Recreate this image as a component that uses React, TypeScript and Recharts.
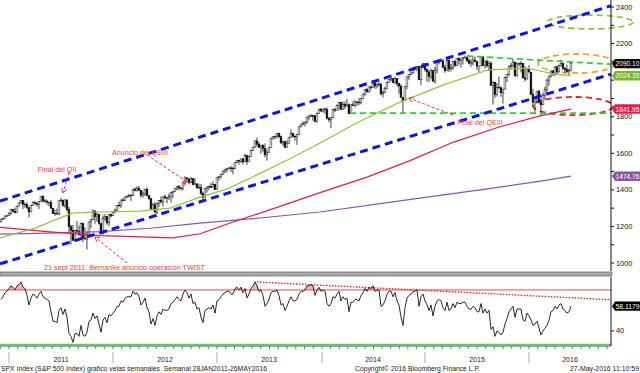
import React from 'react';
import {
  Area,
  Bar,
  ComposedChart,
  Line,
  ReferenceArea,
  ReferenceDot,
  ReferenceLine,
  XAxis,
  YAxis,
} from 'recharts';

// weekly candles: [close, high, low]; open = previous close
type Week = [number, number, number];

const firstOpen = 1225;
const firstWeek = -4;

const weeks2010: Week[] = [[1240, 1241, 1222], [1244, 1246, 1235], [1257, 1259, 1243], [1258, 1263, 1254]];

const weeks2011: Week[] = [
  [1272, 1277, 1257], [1293, 1294, 1265], [1283, 1296, 1276], [1276, 1302, 1270],
  [1311, 1311, 1276], [1329, 1330, 1311], [1343, 1344, 1324], [1320, 1343, 1294],
  [1321, 1333, 1303], [1304, 1331, 1294], [1279, 1304, 1249], [1314, 1315, 1279],
  [1332, 1337, 1314], [1328, 1339, 1318], [1320, 1329, 1309], [1337, 1338, 1295], [1364, 1364, 1336],
  [1340, 1371, 1330], [1338, 1350, 1330], [1333, 1346, 1318], [1331, 1334, 1311],
  [1300, 1346, 1297], [1271, 1299, 1268], [1272, 1292, 1258], [1268, 1298, 1265],
  [1340, 1341, 1263], [1344, 1357, 1334], [1316, 1344, 1306], [1345, 1347, 1303], [1292, 1345, 1282],
  [1199, 1307, 1168], [1179, 1209, 1101], [1124, 1208, 1120], [1177, 1182, 1124],
  [1174, 1230, 1172], [1154, 1204, 1150], [1216, 1220, 1137], [1136, 1221, 1114], [1131, 1195, 1130],
  [1155, 1171, 1074], [1225, 1225, 1156], [1238, 1240, 1191], [1285, 1293, 1234],
  [1253, 1285, 1215], [1264, 1277, 1226], [1216, 1265, 1209], [1159, 1208, 1158],
  [1244, 1260, 1158], [1255, 1267, 1231], [1220, 1255, 1209], [1265, 1266, 1202], [1258, 1269, 1248],
];

const weeks2012: Week[] = [
  [1278, 1285, 1258], [1289, 1297, 1275], [1315, 1315, 1283], [1316, 1333, 1306],
  [1345, 1345, 1300], [1343, 1355, 1335], [1361, 1362, 1340], [1366, 1368, 1355],
  [1370, 1379, 1359], [1371, 1374, 1340], [1404, 1405, 1366], [1397, 1414, 1392], [1409, 1420, 1391],
  [1398, 1422, 1395], [1370, 1398, 1358], [1379, 1392, 1357], [1403, 1406, 1366],
  [1369, 1415, 1367], [1353, 1370, 1343], [1295, 1356, 1292], [1318, 1328, 1292],
  [1278, 1334, 1277], [1326, 1330, 1267], [1343, 1344, 1306], [1335, 1364, 1324], [1362, 1363, 1309],
  [1355, 1375, 1352], [1357, 1358, 1326], [1363, 1380, 1345], [1386, 1387, 1330],
  [1391, 1392, 1354], [1406, 1407, 1391], [1418, 1419, 1398], [1411, 1426, 1398], [1407, 1414, 1397],
  [1438, 1438, 1396], [1466, 1474, 1425], [1460, 1467, 1449], [1441, 1460, 1430],
  [1461, 1470, 1439], [1429, 1461, 1425], [1433, 1464, 1426], [1412, 1434, 1403],
  [1414, 1434, 1405], [1380, 1433, 1373], [1360, 1389, 1343], [1409, 1410, 1359], [1416, 1419, 1385],
  [1418, 1423, 1398], [1414, 1438, 1411], [1430, 1448, 1416], [1402, 1431, 1398],
];

const weeks2013: Week[] = [
  [1467, 1467, 1402], [1472, 1473, 1451], [1486, 1486, 1461], [1503, 1503, 1482],
  [1513, 1514, 1490], [1518, 1518, 1495], [1520, 1524, 1510], [1516, 1531, 1498],
  [1518, 1525, 1485], [1551, 1552, 1514], [1561, 1564, 1549], [1557, 1564, 1538], [1569, 1570, 1546],
  [1553, 1573, 1539], [1589, 1597, 1552], [1555, 1589, 1536], [1582, 1587, 1555],
  [1614, 1618, 1581], [1634, 1636, 1612], [1668, 1668, 1631], [1650, 1687, 1636], [1631, 1662, 1630],
  [1643, 1646, 1598], [1627, 1650, 1608], [1592, 1654, 1577], [1606, 1620, 1560],
  [1632, 1632, 1602], [1680, 1680, 1632], [1692, 1693, 1675], [1692, 1698, 1676],
  [1710, 1710, 1681], [1691, 1710, 1684], [1656, 1697, 1654], [1664, 1669, 1640], [1633, 1667, 1627],
  [1655, 1671, 1633], [1688, 1690, 1656], [1710, 1730, 1684], [1692, 1711, 1687],
  [1691, 1697, 1670], [1703, 1704, 1646], [1745, 1745, 1701], [1760, 1760, 1741],
  [1762, 1775, 1752], [1771, 1774, 1746], [1798, 1799, 1761], [1805, 1806, 1780], [1806, 1813, 1797],
  [1805, 1811, 1779], [1775, 1809, 1772], [1818, 1823, 1767], [1841, 1844, 1819],
];

const weeks2014: Week[] = [
  [1831, 1849, 1827], [1842, 1843, 1823], [1839, 1851, 1815], [1790, 1850, 1790], [1783, 1799, 1770],
  [1797, 1798, 1738], [1839, 1841, 1791], [1836, 1847, 1825], [1860, 1867, 1836],
  [1878, 1883, 1835], [1841, 1879, 1839], [1866, 1883, 1839], [1858, 1884, 1842],
  [1865, 1897, 1858], [1816, 1872, 1814], [1865, 1869, 1815], [1863, 1884, 1859],
  [1881, 1891, 1851], [1879, 1885, 1859], [1878, 1902, 1862], [1901, 1901, 1868], [1924, 1924, 1900],
  [1949, 1950, 1915], [1936, 1956, 1933], [1963, 1964, 1932], [1961, 1968, 1944],
  [1985, 1985, 1958], [1968, 1986, 1953], [1978, 1983, 1955], [1978, 1991, 1965],
  [1925, 1985, 1916], [1932, 1942, 1905], [1955, 1964, 1928], [1988, 1992, 1953], [2003, 2006, 1986],
  [2008, 2012, 1994], [1986, 2008, 1983], [2010, 2019, 1978], [1983, 2009, 1965],
  [1968, 1986, 1926], [1906, 1977, 1905], [1887, 1906, 1821], [1965, 1965, 1886], [2018, 2018, 1951],
  [2032, 2034, 2002], [2040, 2041, 2026], [2064, 2071, 2034], [2068, 2075, 2060],
  [2075, 2076, 2049], [2002, 2074, 2002], [2071, 2077, 1973], [2089, 2094, 2066],
];

const weeks2015: Week[] = [
  [2058, 2093, 2047], [2045, 2064, 1992], [2019, 2054, 1988], [2052, 2064, 2005], [1995, 2057, 1989],
  [2055, 2073, 1981], [2097, 2097, 2039], [2110, 2110, 2086], [2105, 2119, 2099],
  [2071, 2117, 2066], [2053, 2083, 2040], [2108, 2114, 2048], [2061, 2115, 2045],
  [2067, 2088, 2048], [2102, 2103, 2057], [2081, 2111, 2072], [2118, 2120, 2078],
  [2108, 2126, 2085], [2116, 2117, 2068], [2123, 2123, 2085], [2126, 2134, 2117], [2107, 2127, 2099],
  [2093, 2120, 2086], [2094, 2115, 2072], [2110, 2127, 2081], [2102, 2130, 2100],
  [2077, 2102, 2056], [2077, 2078, 2044], [2127, 2128, 2077], [2080, 2132, 2079], [2104, 2107, 2063],
  [2078, 2113, 2068], [2092, 2105, 2052], [1971, 2103, 1970], [1989, 1993, 1867],
  [1921, 1990, 1903], [1961, 1984, 1911], [1958, 2021, 1953], [1931, 1967, 1909],
  [1951, 1952, 1872], [2015, 2020, 1951], [2033, 2034, 1990], [2075, 2080, 2022], [2079, 2094, 2058],
  [2099, 2116, 2069], [2023, 2100, 2022], [2089, 2097, 2019], [2090, 2097, 2074],
  [2092, 2104, 2043], [2012, 2093, 2012], [2006, 2076, 1993], [2061, 2067, 2005], [2044, 2082, 2044],
];

const weeks2016: Week[] = [
  [1922, 2039, 1919], [1880, 1950, 1857], [1907, 1908, 1812], [1940, 1940, 1872],
  [1880, 1947, 1872], [1865, 1896, 1810], [1918, 1931, 1865], [1948, 1963, 1891],
  [2000, 2009, 1931], [2022, 2022, 1969], [2050, 2052, 2015], [2036, 2053, 2023],
  [2073, 2076, 2022], [2048, 2075, 2033], [2081, 2084, 2039], [2092, 2112, 2075], [2065, 2096, 2053],
  [2057, 2072, 2039], [2047, 2084, 2044], [2052, 2064, 2025], [2090.1, 2094, 2048],
];

// weekly RSI, same weeks as the candles
const rsi2010 = [63, 65, 68, 69];
const rsi2011 = [
  71, 73, 72, 70, 73, 74, 76, 72, 71, 66, 59, 64, 67, 66, 64, 67, 69, 65, 64, 63, 62,
  54, 47, 47, 46, 55, 57, 52, 56, 50, 38, 36, 31.5, 38, 38, 36, 44, 37, 36, 39,
  47, 48, 53, 49, 51, 45, 39, 48, 50, 46, 52, 51,
];
const rsi2012 = [
  53, 55, 58, 58, 62, 61, 64, 65, 65, 65, 69, 67, 68, 65, 59, 61, 64, 57, 54, 45,
  49, 44, 51, 54, 52, 56, 55, 55, 56, 60, 61, 63, 65, 63, 62, 67, 70, 68, 64, 67,
  60, 61, 56, 57, 50, 46, 55, 56, 57, 56, 59, 53,
];
const rsi2013 = [
  62, 63, 65, 67, 68, 69, 69, 67, 67, 71, 72, 70, 72, 68, 71, 64, 67, 71, 73, 76,
  73, 69, 70, 66, 58, 60, 63, 68, 69, 69, 70, 66, 59, 60, 55, 58, 62, 65, 62, 62,
  63, 67, 69, 69, 70, 73, 73, 74, 73, 66, 70, 72,
];
const rsi2014 = [
  69, 70, 69, 60, 58, 60, 65, 64, 67, 69, 62, 65, 63, 64, 54, 61, 61, 63, 63, 62,
  66, 68, 71, 69, 72, 71, 73, 69, 70, 70, 58, 59, 62, 67, 69, 69, 65, 68, 62, 59,
  50, 44, 57, 64, 66, 67, 69, 69, 70, 58, 65, 67,
];
const rsi2015 = [
  62, 59, 55, 59, 51, 58, 62, 63, 62, 57, 55, 61, 55, 56, 60, 57, 61, 60, 60, 61,
  61, 58, 56, 56, 58, 57, 54, 54, 60, 53, 56, 53, 55, 41, 43, 36, 40, 39, 37, 39,
  45, 49, 54, 56, 58, 50, 56, 56, 56, 48, 47, 53, 51,
];
const rsi2016 = [48, 44, 45, 47, 42, 37, 40, 42, 44, 48, 54, 55, 58, 56, 59, 60, 56, 55, 53, 54, 58.1179];

// moving averages: week position -> value
const greenMaW = [-4.5, 13, 31.5, 45.5, 65.5, 80.5, 95.5, 109, 125.5, 140.5, 155.5, 175.5, 195.5, 217, 239, 259, 265.5, 273, 281];
const greenMaV = [1137, 1191, 1273, 1279, 1284, 1300, 1360, 1404, 1490, 1570, 1656, 1775, 1880, 1973, 2055, 2066, 2050, 2033, 2024.35];
const redMaW = [-4.5, 20.5, 45.5, 82, 95.5, 112, 135.5, 155.5, 179, 200.5, 222, 245.5, 265.5, 281];
const redMaV = [1195, 1170, 1150, 1137, 1160, 1224, 1310, 1385, 1470, 1560, 1660, 1745, 1805, 1841.95];
const purpleMaW = [-4.5, 25.5, 45.5, 70.5, 95.5, 125.5, 155.5, 195.5, 235.5, 269, 281];
const purpleMaV = [1158, 1165, 1172, 1190, 1218, 1246, 1279, 1340, 1400, 1453, 1474.76];

const priceTicks = [1000, 1100, 1200, 1300, 1400, 1500, 1600, 1700, 1800, 1900, 2000, 2100, 2200, 2300, 2400];
const hiddenPriceLabels = [2000];
const rsiTicks = [40];
const yearStarts = [0, 52, 104, 156.5, 208, 260];
const yearLabelAt = [26, 78, 130, 182, 234, 280.5];
const yearLabels = ['2011', '2012', '2013', '2014', '2015', '2016'];

const priceTagValues = [2090.1, 2024.35, 1841.95, 1474.76];
const priceTagTexts = ['2090.10', '2024.35', '1841.95', '1474.76'];
const priceTagColors = ['#000000', '#78b82a', '#e51c4b', '#8a55a6'];
const rsiLast = 58.1179;

// drawings on the price panel, in week / price units
const upperChannel = [{ x: -4.5, y: 1339 }, { x: 301, y: 2407 }];
const lowerChannel = [{ x: -4.5, y: 995 }, { x: 301, y: 2033 }];
const supportLine = [{ x: 170.5, y: 1820 }, { x: 301, y: 1820 }];
const topLine = [{ x: 229, y: 2132 }, { x: 301, y: 2087 }];
const rsiTrend = [{ x: 124, y: 75.8 }, { x: 301, y: 62.8 }];

const notes = [
  { w: 24, v: 1514, text: 'Final del QII' },
  { w: 65.5, v: 1607, text: 'Anuncio del QEIII' },
  { w: 57.75, v: 973, text: '21 sept 2011: Bernanke anuncio operación TWIST' },
  { w: 235.5, v: 1771, text: 'Final del QEIII' },
];
const arrows = [
  [{ x: 30, y: 1498 }, { x: 27, y: 1383 }],
  [{ x: 69, y: 1591 }, { x: 89, y: 1443 }],
  [{ x: 59, y: 1000 }, { x: 43, y: 1142 }],
  [{ x: 222, y: 1809 }, { x: 200, y: 1902 }],
];

const W = 640;
const DOMAIN_X: [number, number] = [-4.5, 301];
const FONT = '"Liberation Sans", Arial, sans-serif';

const allWeeks = [...weeks2010, ...weeks2011, ...weeks2012, ...weeks2013, ...weeks2014, ...weeks2015, ...weeks2016];
const allRsi = [...rsi2010, ...rsi2011, ...rsi2012, ...rsi2013, ...rsi2014, ...rsi2015, ...rsi2016];

const candles = allWeeks.map(([close, high, low], i) => ({
  w: firstWeek + i,
  open: i === 0 ? firstOpen : allWeeks[i - 1][0],
  close,
  high,
  low,
}));
const rsiData = allRsi.map((rsi, i) => ({ w: firstWeek + i, rsi }));

const zip = (ws: number[], vs: number[]) => ws.map((w, i) => ({ w, v: vs[i] }));
const greenMa = zip(greenMaW, greenMaV);
const redMa = zip(redMaW, redMaV);
const purpleMa = zip(purpleMaW, purpleMaV);

// month ticks under the lower panel
const monthTicks: number[] = [-52 / 12];
yearStarts.forEach((s, i) => {
  const len = i < yearStarts.length - 1 ? yearStarts[i + 1] - s : 52;
  for (let m = 0; m < 12; m++) {
    const t = s + (m * len) / 12;
    if (t <= DOMAIN_X[1]) monthTicks.push(t);
  }
});
const timeTicks = Array.from(new Set([...monthTicks, ...yearLabelAt])).sort((a, b) => a - b);

function Candle(props: any) {
  const { x, y, width, height, payload } = props;
  if (!payload || !Number.isFinite(y)) return null;
  const top = height < 0 ? y + height : y;
  const h = Math.abs(height);
  const { open, close, high, low } = payload;
  const span = high - low || 1;
  const py = (v: number) => top + ((high - v) / span) * h;
  const cx = x + width / 2;
  const bTop = py(Math.max(open, close));
  const bBot = py(Math.min(open, close));
  const up = close >= open;
  return (
    <g>
      <line x1={cx} x2={cx} y1={top} y2={top + h} stroke="#111" strokeWidth={0.8} />
      <rect
        x={cx - 0.9}
        y={bTop}
        width={1.8}
        height={Math.max(bBot - bTop, 0.6)}
        fill={up ? '#ffffff' : '#111'}
        stroke="#111"
        strokeWidth={0.5}
      />
    </g>
  );
}

const dashedEllipse = (color: string) => (p: any) => (
  <ellipse
    cx={p.x + p.width / 2}
    cy={p.y + p.height / 2}
    rx={Math.abs(p.width) / 2}
    ry={Math.abs(p.height) / 2}
    fill="none"
    stroke={color}
    strokeWidth={1.8}
    strokeDasharray="6 4"
  />
);

function ArrowShape(p: any) {
  const { x1, y1, x2, y2 } = p;
  const a = Math.atan2(y2 - y1, x2 - x1);
  const L = 5;
  const h1x = x2 - L * Math.cos(a - 0.55);
  const h1y = y2 - L * Math.sin(a - 0.55);
  const h2x = x2 - L * Math.cos(a + 0.55);
  const h2y = y2 - L * Math.sin(a + 0.55);
  return (
    <g>
      <line x1={x1} y1={y1} x2={x2} y2={y2} stroke="#ff3030" strokeWidth={1} strokeDasharray="3 2" />
      <polyline points={`${h1x},${h1y} ${x2},${y2} ${h2x},${h2y}`} fill="none" stroke="#ff3030" strokeWidth={1} />
    </g>
  );
}

const noteShape = (text: string) => (p: any) => (
  <text x={p.cx} y={p.cy} dy={2.5} textAnchor="middle" fontSize={7.2} fontFamily={FONT} fill="#ff3b3b">
    {text}
  </text>
);

const tagShape = (text: string, color: string) => (p: any) => {
  const x = p.cx + 1;
  const y = p.cy;
  return (
    <g>
      <polygon
        points={`${x},${y} ${x + 3},${y - 4.7} ${x + 28},${y - 4.7} ${x + 28},${y + 4.7} ${x + 3},${y + 4.7}`}
        fill={color}
      />
      <text
        x={x + 15.5}
        y={y}
        dy={2.5}
        textAnchor="middle"
        fontSize={7}
        fontFamily={FONT}
        fill="#fff"
        textLength={24}
        lengthAdjust="spacingAndGlyphs"
      >
        {text}
      </text>
    </g>
  );
};

const priceTick = (p: any) =>
  p.payload.value % 200 === 0 && !hiddenPriceLabels.includes(p.payload.value) ? (
    <text x={p.x} y={p.y} dy={2.6} fontSize={7.4} fontFamily={FONT} fill="#111" textAnchor="start">
      {p.payload.value}
    </text>
  ) : (
    <g />
  );

const rsiTick = (p: any) => (
  <text x={p.x} y={p.y} dy={2.6} fontSize={7.4} fontFamily={FONT} fill="#111" textAnchor="start">
    {p.payload.value}
  </text>
);

const timeTick = (p: any) => {
  const v = p.payload.value;
  const { x, y } = p;
  const li = yearLabelAt.indexOf(v);
  const isMonth = monthTicks.includes(v);
  const isYear = yearStarts.includes(v);
  return (
    <g>
      {isMonth && <line x1={x} x2={x} y1={y} y2={y + 3} stroke="#555" strokeWidth={0.8} />}
      {isYear && <line x1={x} x2={x} y1={y + 6} y2={y + 17} stroke="#999" strokeWidth={0.8} />}
      {li >= 0 && (
        <text x={x} y={y + 16} textAnchor="middle" fontSize={7} fontFamily={FONT} fill="#222">
          {yearLabels[li]}
        </text>
      )}
    </g>
  );
};

export default function App() {
  return (
    <div
      style={{
        position: 'absolute',
        left: 0,
        top: 0,
        width: W,
        height: 373,
        background: '#fff',
        fontFamily: FONT,
        overflow: 'hidden',
      }}
    >
      <div style={{ position: 'absolute', left: 0, top: 0 }}>
        <ComposedChart width={W} height={271} data={candles} margin={{ top: 0, right: 0, bottom: 0, left: 0 }}>
          <XAxis type="number" dataKey="w" domain={DOMAIN_X} hide allowDataOverflow />
          <YAxis
            orientation="right"
            width={29}
            domain={[956.3, 2438.3]}
            allowDataOverflow
            ticks={priceTicks}
            interval={0}
            tickSize={3}
            tickMargin={2}
            tickLine={{ stroke: '#111' }}
            axisLine={{ stroke: '#111' }}
            tick={priceTick}
          />
          <ReferenceArea x1={269} x2={312} y1={2280} y2={2356} ifOverflow="hidden" shape={dashedEllipse('#8cc63f')} />
          <ReferenceArea x1={264.5} x2={303} y1={2039} y2={2143} ifOverflow="hidden" shape={dashedEllipse('#f5a22e')} />
          <ReferenceArea x1={262} x2={302} y1={1809} y2={1908} ifOverflow="hidden" shape={dashedEllipse('#e8201e')} />
          <ReferenceLine segment={supportLine} stroke="#2ed12e" strokeWidth={1.8} strokeDasharray="6 4" />
          <ReferenceLine segment={topLine} stroke="#2ed12e" strokeWidth={1.8} strokeDasharray="6 4" />
          <Line data={purpleMa} dataKey="v" type="linear" stroke="#8a55a6" strokeWidth={1.2} dot={false} isAnimationActive={false} />
          <Line data={redMa} dataKey="v" type="linear" stroke="#e8194b" strokeWidth={1.2} dot={false} isAnimationActive={false} />
          <Line data={greenMa} dataKey="v" type="linear" stroke="#8dc63f" strokeWidth={1.2} dot={false} isAnimationActive={false} />
          <Bar dataKey={(d: any) => [d.low, d.high]} barSize={2} shape={Candle} isAnimationActive={false} />
          <ReferenceLine segment={upperChannel} stroke="#0a14ee" strokeWidth={3} strokeDasharray="8 5" />
          <ReferenceLine segment={lowerChannel} stroke="#0a14ee" strokeWidth={3} strokeDasharray="8 5" />
          {arrows.map((seg, i) => (
            <ReferenceLine key={`a${i}`} segment={seg} shape={ArrowShape} />
          ))}
          {notes.map((n) => (
            <ReferenceDot key={n.text} x={n.w} y={n.v} r={0} ifOverflow="visible" shape={noteShape(n.text)} />
          ))}
          {priceTagValues.map((v, i) => (
            <ReferenceDot
              key={`t${i}`}
              x={DOMAIN_X[1]}
              y={v}
              r={0}
              ifOverflow="visible"
              shape={tagShape(priceTagTexts[i], priceTagColors[i])}
            />
          ))}
        </ComposedChart>
      </div>

      <div style={{ position: 'absolute', left: 0, top: 277 }}>
        <ComposedChart width={W} height={96} data={rsiData} margin={{ top: 0, right: 0, bottom: 0, left: 0 }}>
          <XAxis
            type="number"
            dataKey="w"
            domain={DOMAIN_X}
            allowDataOverflow
            ticks={timeTicks}
            interval={0}
            height={27}
            tickSize={0}
            tickMargin={0}
            tickLine={false}
            axisLine={{ stroke: '#555' }}
            tick={timeTick}
          />
          <YAxis
            orientation="right"
            width={29}
            domain={[28.9, 79.5]}
            allowDataOverflow
            ticks={rsiTicks}
            interval={0}
            tickSize={3}
            tickMargin={2}
            tickLine={{ stroke: '#111' }}
            axisLine={{ stroke: '#111' }}
            tick={rsiTick}
          />
          <Area
            dataKey={(d: any) => [70, Math.max(70, d.rsi)]}
            type="linear"
            stroke="none"
            fill="#f5b5b5"
            fillOpacity={1}
            isAnimationActive={false}
          />
          <ReferenceLine y={70} stroke="#e34a4a" strokeWidth={1} />
          <ReferenceLine y={30} stroke="#55d155" strokeWidth={1.5} />
          <ReferenceLine segment={rsiTrend} stroke="#ff2020" strokeWidth={1.4} strokeDasharray="1.5 1.5" />
          <Line dataKey="rsi" type="linear" stroke="#111" strokeWidth={0.9} dot={false} isAnimationActive={false} />
          <ReferenceDot x={DOMAIN_X[1]} y={rsiLast} r={0} ifOverflow="visible" shape={tagShape('58.1179', '#000')} />
        </ComposedChart>
      </div>

      <svg width={W} height={373} style={{ position: 'absolute', left: 0, top: 0, pointerEvents: 'none' }}>
        <rect x={0} y={272} width={612} height={4} fill="#a8a8a8" stroke="#6f6f6f" strokeWidth={0.8} />
        <text
          x={1}
          y={371}
          fontSize={7}
          fontFamily={FONT}
          fill="#222"
          textLength={266}
          lengthAdjust="spacingAndGlyphs"
          style={{ whiteSpace: 'pre' }}
        >
          SPX Index (S&amp;P 500 Index) grafico velas semanales  Semanal 28JAN2011-26MAY2016
        </text>
        <text x={355} y={371} fontSize={7} fontFamily={FONT} fill="#222" textLength={125} lengthAdjust="spacingAndGlyphs">
          Copyright© 2016 Bloomberg Finance L.P.
        </text>
        <text x={570} y={371} fontSize={7} fontFamily={FONT} fill="#222" textLength={69} lengthAdjust="spacingAndGlyphs">
          27-May-2016 11:10:59
        </text>
      </svg>
    </div>
  );
}
